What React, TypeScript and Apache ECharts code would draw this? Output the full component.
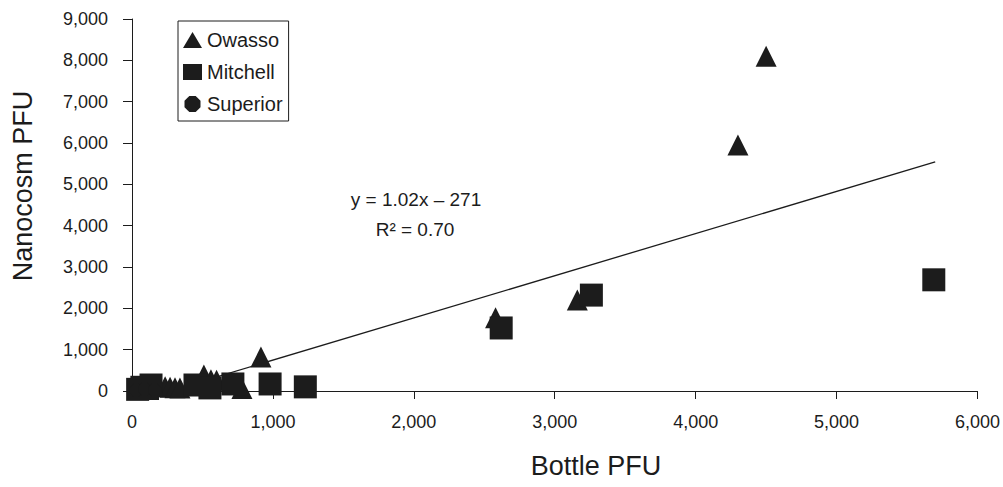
import React, { useEffect, useRef } from "react";
import * as echarts from "echarts";

// Data (Bottle PFU, Nanocosm PFU)
const owasso: number[][] = [
  [4500, 8100],
  [4300, 5950],
  [3160, 2200],
  [2580, 1770],
  [915, 820],
  [510, 390],
  [600, 260],
  [560, 270],
  [780, 60],
  [235, 100],
  [270, 90],
  [305, 80],
  [340, 70],
];
const mitchell: number[][] = [
  [5690, 2690],
  [3260, 2320],
  [2620, 1525],
  [980, 170],
  [1230, 100],
  [716, 170],
  [447, 145],
  [553, 75],
  [70, 90],
  [135, 145],
  [40, 40],
  [110, 60],
];
const superior: number[][] = [
  [30, 20],
  [90, 40],
  [160, 30],
];
const trendLine: number[][] = [
  [266, 0],
  [5700, 5543],
];
const equationLines: string[] = ["y = 1.02x \u2013 271", "R\u00b2 = 0.70"];
const xTitle = "Bottle PFU";
const yTitle = "Nanocosm PFU";

const FONT = "'Liberation Sans', Arial, Helvetica, sans-serif";
const INK = "#1c1c1c";

const octagon =
  "path://M3,0 L7,0 L10,3 L10,7 L7,10 L3,10 L0,7 L0,3 Z";

export default function App() {
  const ref = useRef<HTMLDivElement>(null);
  useEffect(() => {
    if (!ref.current) return;
    const chart = echarts.init(ref.current, undefined, { renderer: "svg" });
    const fmt = (v: number) => v.toLocaleString("en-US");
    chart.setOption({
      animation: false,
      backgroundColor: "#ffffff",
      grid: { left: 132, right: 24, top: 19, bottom: 96, containLabel: false },
      xAxis: {
        type: "value",
        min: 0,
        max: 6000,
        interval: 1000,
        axisLine: { show: true, onZero: false, lineStyle: { color: INK, width: 1 } },
        axisTick: { show: true, inside: false, length: 8, lineStyle: { color: INK } },
        axisLabel: { margin: 22, fontSize: 18, color: INK, fontFamily: FONT, formatter: fmt },
        splitLine: { show: false },
      },
      yAxis: {
        type: "value",
        min: 0,
        max: 9000,
        interval: 1000,
        axisLine: { show: true, onZero: false, lineStyle: { color: INK, width: 1 } },
        axisTick: { show: true, inside: false, length: 9, lineStyle: { color: INK } },
        axisLabel: { margin: 24, fontSize: 18, color: INK, fontFamily: FONT, formatter: fmt },
        splitLine: { show: false },
      },
      legend: {
        orient: "vertical",
        left: 178,
        top: 21,
        padding: [9, 6, 7, 5],
        itemGap: 12,
        itemWidth: 19,
        itemHeight: 16,
        borderColor: INK,
        borderWidth: 1,
        backgroundColor: "#fff",
        textStyle: { fontSize: 20, color: INK, fontFamily: FONT },
        data: [
          { name: "Owasso", icon: "triangle" },
          { name: "Mitchell", icon: "rect" },
          { name: "Superior", icon: octagon },
        ],
      },
      series: [
        {
          name: "Trend",
          type: "line",
          data: trendLine,
          symbol: "none",
          lineStyle: { color: INK, width: 1.3 },
          silent: true,
          z: 1,
        },
        {
          name: "Owasso",
          type: "scatter",
          data: owasso,
          symbol: "triangle",
          symbolSize: 21,
          itemStyle: { color: INK, opacity: 1 },
          z: 2,
        },
        {
          name: "Mitchell",
          type: "scatter",
          data: mitchell,
          symbol: "rect",
          symbolSize: 23,
          itemStyle: { color: INK, opacity: 1 },
          z: 3,
        },
        {
          name: "Superior",
          type: "scatter",
          data: superior,
          symbol: octagon,
          symbolSize: 13,
          itemStyle: { color: INK, opacity: 1 },
          z: 4,
        },
      ],
      graphic: [
        {
          type: "text",
          x: 416,
          y: 199,
          style: {
            text: equationLines[0],
            fontSize: 19,
            fontFamily: FONT,
            fill: INK,
            align: "center",
            verticalAlign: "middle",
          },
        },
        {
          type: "text",
          x: 415,
          y: 229,
          style: {
            text: equationLines[1],
            fontSize: 19,
            fontFamily: FONT,
            fill: INK,
            align: "center",
            verticalAlign: "middle",
          },
        },
        {
          type: "text",
          x: 596,
          y: 466,
          style: {
            text: xTitle,
            fontSize: 27,
            fontFamily: FONT,
            fill: INK,
            align: "center",
            verticalAlign: "middle",
          },
        },
        {
          type: "text",
          x: 23,
          y: 186,
          rotation: Math.PI / 2,
          style: {
            text: yTitle,
            fontSize: 27,
            fontFamily: FONT,
            fill: INK,
            align: "center",
            verticalAlign: "middle",
          },
        },
      ],
    });
    return () => chart.dispose();
  }, []);
  return <div ref={ref} style={{ width: 1003, height: 487, position: "absolute", left: 0, top: 0 }} />;
}
